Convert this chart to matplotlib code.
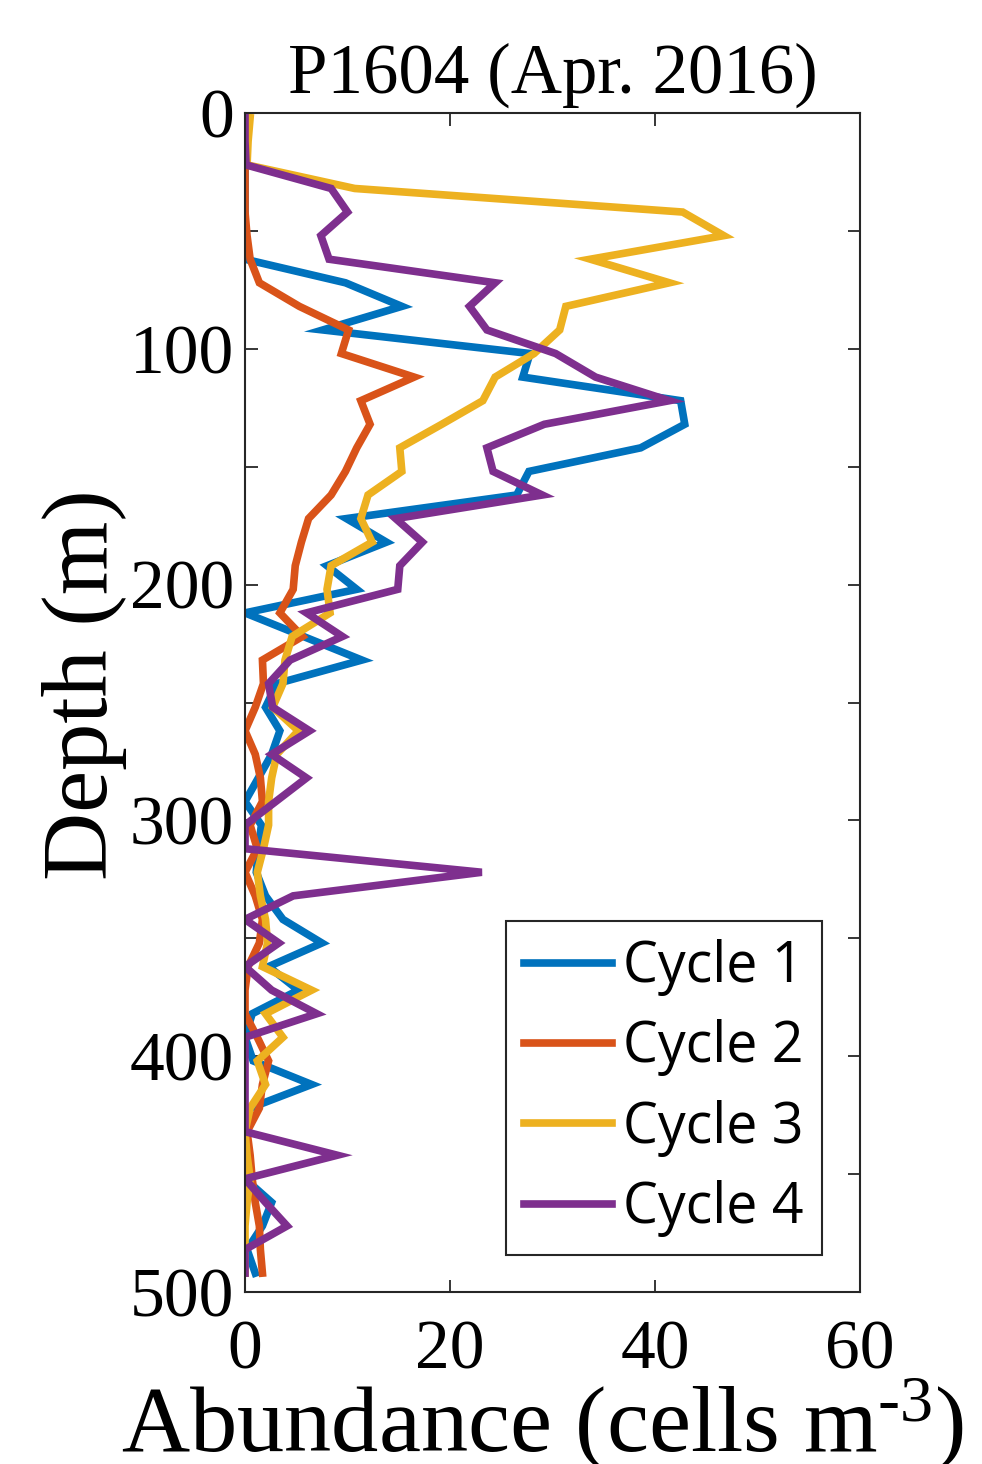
import matplotlib
matplotlib.use("Agg")
import matplotlib.pyplot as plt
import numpy as np

# depth of each sample (m)
depth = np.arange(2, 500, 10)

# abundance (cells m^-3), one value per depth
cycle1 = [0, 0, 0, 0, 0, 0, 0, 9.8, 15.3, 7.6,
          27.8, 27.1, 42.5, 42.9, 38.6, 27.7, 26.5, 9.9, 13.8, 8.0,
          10.9, 0, 5.7, 11.4, 3.1, 2.0, 3.4, 2.6, 1.3, 0,
          1.6, 1.3, 1.1, 2.0, 3.7, 7.5, 2.3, 5.2, 0.7, 0,
          0.8, 6.5, 0.5, 0, 0, 0, 2.6, 1.7, 0.2, 1.0]
cycle2 = [0, 0, 0, 0, 0, 0.2, 0.5, 1.4, 5.3, 10.1,
          9.4, 16.5, 11.3, 12.2, 10.9, 9.8, 8.4, 6.2, 5.5, 4.9,
          4.7, 3.4, 5.6, 1.7, 1.8, 1.0, 0, 1.0, 1.5, 1.7,
          0.5, 1.2, 0, 1.0, 1.7, 1.4, 0.3, 0, 0, 1.2,
          2.3, 1.7, 1.4, 0.2, 0.5, 0.7, 1.0, 1.4, 1.5, 1.7]
cycle3 = [0.5, 0.3, 0.2, 10.7, 42.7, 46.7, 33.7, 41.4, 31.3, 30.7,
          28.2, 24.4, 23.2, 19.2, 15.1, 15.3, 12.0, 11.3, 12.4, 8.4,
          8.0, 8.3, 4.6, 3.9, 3.7, 2.7, 5.2, 3.1, 2.6, 2.3,
          2.3, 1.8, 1.2, 1.5, 2.0, 2.2, 1.7, 6.5, 2.0, 3.7,
          1.2, 2.0, 0.5, 0, 0.2, 0.5, 0.2, 0, 0, 0]
cycle4 = [0, 0, 0.1, 8.4, 10.0, 7.4, 8.2, 24.4, 21.9, 23.6,
          30.3, 34.2, 41.4, 29.2, 23.6, 24.2, 29.0, 14.7, 17.3, 15.1,
          14.9, 6.0, 9.5, 4.4, 2.3, 2.7, 6.3, 2.6, 6.0, 3.0,
          0, 0, 23.1, 4.7, 0, 3.3, 0, 2.6, 7.0, 0,
          0, 0, 0, 0, 9.0, 0, 2.0, 4.1, 0, 0]

labels = ["Cycle 1", "Cycle 2", "Cycle 3", "Cycle 4"]
colors = ["#0072BD", "#D95319", "#EDB120", "#7E2F8E"]

plt.rcParams["mathtext.fontset"] = "custom"
plt.rcParams["mathtext.rm"] = "Liberation Serif"
plt.rcParams["mathtext.it"] = "Liberation Serif:italic"

serif = "Liberation Serif"
edge = "#262626"

fig = plt.figure(figsize=(9.82, 14.64), dpi=100)
ax = fig.add_axes([0.2495, 0.1175, 0.6263, 0.8053])

for vals, lab, c in zip([cycle1, cycle2, cycle3, cycle4], labels, colors):
    ax.plot(vals, depth, color=c, lw=5.5, label=lab, solid_joinstyle="miter")

ax.set_xlim(0, 60)
ax.set_ylim(500, 0)
ax.set_xticks([0, 20, 40, 60])
yt = np.arange(0, 501, 50)
ax.set_yticks(yt)
ax.set_yticklabels([str(v) if v % 100 == 0 else "" for v in yt])

ax.tick_params(direction="in", length=9, width=1.3, colors=edge,
               top=True, right=True, labelsize=50)
ax.tick_params(axis="x", pad=20)
ax.tick_params(axis="y", pad=8)
for lbl in ax.get_xticklabels() + ax.get_yticklabels():
    lbl.set_fontfamily(serif)
    lbl.set_color("black")
for sp in ax.spines.values():
    sp.set_color(edge)
    sp.set_linewidth(1.5)

ax.set_title("P1604 (Apr. 2016)", fontsize=51, family=serif, pad=15)
ax.set_xlabel(r"Abundance (cells m$^{\text{-}3}$)", fontsize=68,
              family=serif, labelpad=-5)
ax.xaxis.label.set_x(0.483)
ax.set_ylabel("Depth (m)", fontsize=68, family=serif, labelpad=2)
ax.yaxis.label.set_y(0.515)

leg = ax.legend(loc="lower right", bbox_to_anchor=(0.938, 0.031),
                borderaxespad=0, frameon=True, fancybox=False,
                prop={"family": "Open Sans", "size": 40},
                handlelength=1.58, handletextpad=0.2, borderpad=0.33,
                labelspacing=0.42)
leg.get_frame().set_edgecolor(edge)
leg.get_frame().set_linewidth(1.5)
leg.get_frame().set_alpha(1)

fig.savefig("out.png", dpi=100)
